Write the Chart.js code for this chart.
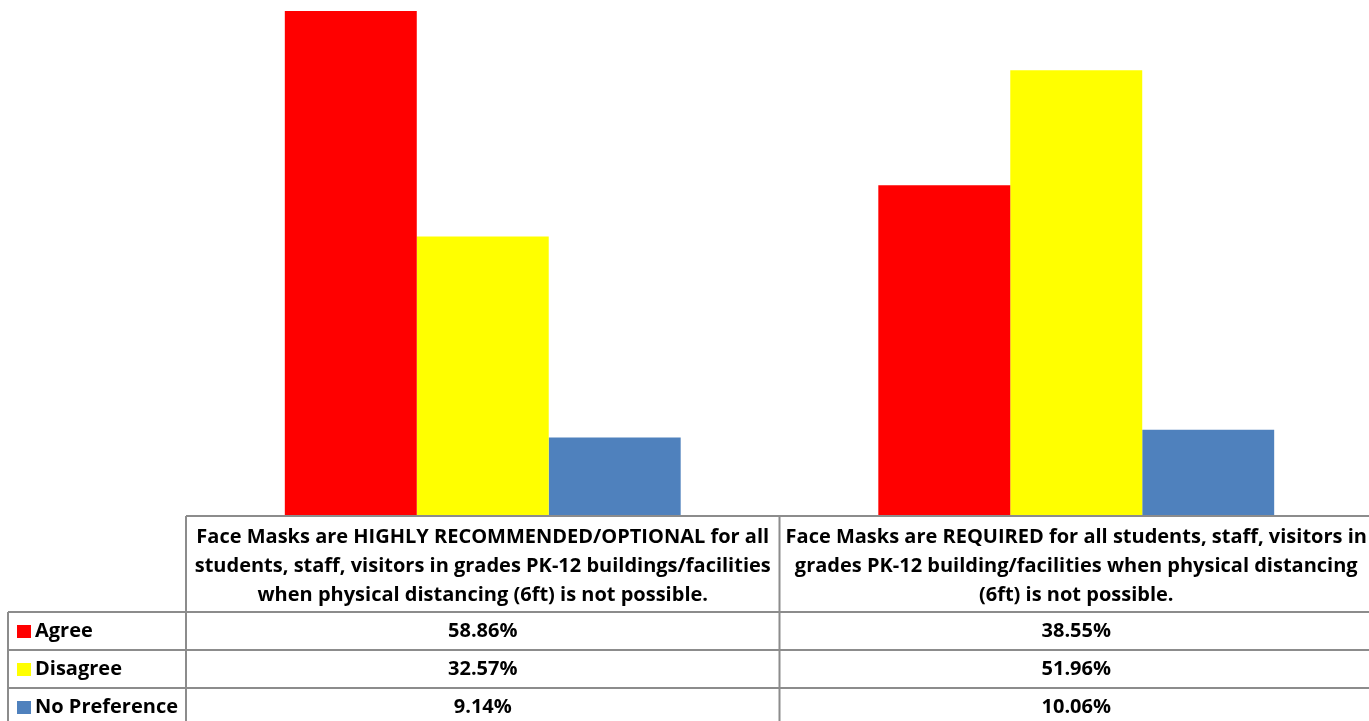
<!DOCTYPE html>
<html>
<head>
<meta charset="utf-8">
<script src="https://cdn.jsdelivr.net/npm/chart.js@4"></script>
<style>
html,body{margin:0;padding:0;background:#fff;overflow:hidden;width:1369px;height:721px;}
#wrap{width:1373px;height:721px;}
</style>
</head>
<body>
<div id="wrap"><canvas id="c" width="1373" height="721"></canvas></div>
<script>
const categories = [
  ["Face Masks are HIGHLY RECOMMENDED/OPTIONAL for all", "students, staff, visitors in grades PK-12 buildings/facilities", "when physical distancing (6ft) is not possible."],
  ["Face Masks are REQUIRED for all students, staff, visitors in", "grades PK-12 building/facilities when physical distancing", "(6ft) is not possible."]
];
const seriesNames = ["Agree", "Disagree", "No Preference"];
const agree = [58.86, 38.55];
const disagree = [32.57, 51.96];
const noPreference = [9.14, 10.06];
const seriesColors = ["#FF0000", "#FFFF00", "#4F81BD"];

const FONT = "'Open Sans', Lato, sans-serif";

const tablePlugin = {
  id: 'dataTable',
  afterDraw(chart) {
    const ctx = chart.ctx;
    const x = chart.scales.x;
    const area = chart.chartArea;
    const catW = (area.right - area.left) / categories.length;
    const top = area.bottom;          // 516
    const rowTop = top + 96;          // 612
    const rowH = 38;
    const leftX = 8;
    ctx.save();
    ctx.strokeStyle = '#8c8c8c';
    ctx.lineWidth = 2;
    ctx.beginPath();
    ctx.moveTo(area.left, top); ctx.lineTo(chart.width, top);
    for (let i = 0; i <= seriesNames.length; i++) {
      const y = rowTop + i * rowH;
      ctx.moveTo(leftX, y); ctx.lineTo(chart.width, y);
    }
    ctx.moveTo(leftX, rowTop); ctx.lineTo(leftX, chart.height);
    for (let c = 0; c <= categories.length; c++) {
      const vx = area.left + c * catW;
      ctx.moveTo(vx, top); ctx.lineTo(vx, chart.height);
    }
    ctx.stroke();

    ctx.fillStyle = '#000';
    ctx.textBaseline = 'middle';
    ctx.textAlign = 'center';
    ctx.font = "bold 20px " + FONT;
    categories.forEach((lines, ci) => {
      const cx = x.getPixelForValue(ci);
      lines.forEach((ln, li) => {
        ctx.fillText(ln, cx, top + 21 + li * 29);
      });
    });
    const data = [agree, disagree, noPreference];
    seriesNames.forEach((name, si) => {
      const cy = rowTop + si * rowH + rowH / 2;
      ctx.fillStyle = seriesColors[si];
      ctx.fillRect(17, cy - 6, 14, 13);
      ctx.fillStyle = '#000';
      ctx.textAlign = 'left';
      ctx.fillText(name, 35, cy);
      ctx.textAlign = 'center';
      data[si].forEach((v, ci) => {
        ctx.fillText(v.toFixed(2) + '%', x.getPixelForValue(ci), cy);
      });
    });
    ctx.restore();
  }
};

new Chart(document.getElementById('c'), {
  type: 'bar',
  data: {
    labels: categories.map(l => l.join(' ')),
    datasets: [
      { label: seriesNames[0], data: agree, backgroundColor: seriesColors[0] },
      { label: seriesNames[1], data: disagree, backgroundColor: seriesColors[1] },
      { label: seriesNames[2], data: noPreference, backgroundColor: seriesColors[2] }
    ]
  },
  options: {
    responsive: false,
    animation: false,
    devicePixelRatio: 1,
    layout: { padding: { left: 186, right: 0, top: 0, bottom: 205 } },
    datasets: { bar: { categoryPercentage: 0.667, barPercentage: 1.0 } },
    scales: {
      x: { display: false },
      y: { display: false, min: 0, max: 60.14 }
    },
    plugins: { legend: { display: false }, tooltip: { enabled: false } }
  },
  plugins: [tablePlugin]
});
</script>
</body>
</html>
